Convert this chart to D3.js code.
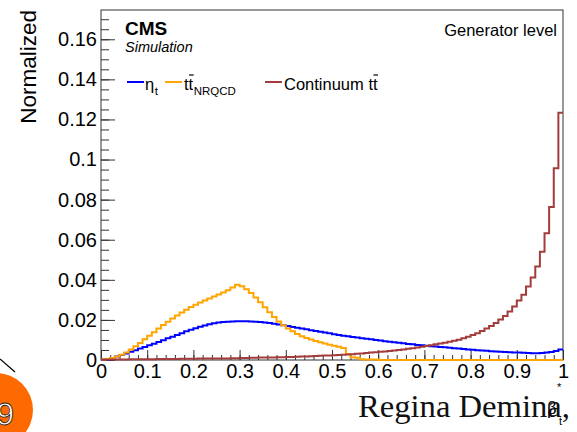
<!DOCTYPE html>
<html><head><meta charset="utf-8">
<script src="https://cdn.jsdelivr.net/npm/d3@7"></script>
<style>body{margin:0;background:#fff}svg{display:block}</style>
</head><body><svg id="c" width="577" height="432"></svg>
<script>
// ---- data ----
const binEdges = d3.range(0, 101).map(i => i / 100);
const etaT = [
0.0001,0.0003,0.0009,0.0017,0.0025,0.0033,0.0041,0.0049,0.0057,0.0065,
0.0073,0.0081,0.0090,0.0099,0.0108,0.0116,0.0125,0.0134,0.0143,0.0151,
0.0159,0.0166,0.0172,0.0178,0.0183,0.0187,0.0189,0.0191,0.0192,0.0193,
0.0193,0.0193,0.0192,0.0191,0.0189,0.0187,0.0184,0.0181,0.0177,0.0173,
0.0169,0.0165,0.0161,0.0157,0.0153,0.0149,0.0145,0.0141,0.0137,0.0133,
0.0129,0.0125,0.0121,0.0118,0.0115,0.0112,0.0109,0.0106,0.0103,0.0100,
0.0097,0.0094,0.0091,0.0088,0.0086,0.0083,0.0080,0.0078,0.0075,0.0073,
0.0071,0.0069,0.0067,0.0065,0.0063,0.0061,0.0059,0.0057,0.0055,0.0053,
0.0051,0.0049,0.0047,0.0046,0.0044,0.0043,0.0041,0.0040,0.0039,0.0038,
0.0037,0.0036,0.0035,0.0034,0.0034,0.0035,0.0037,0.0040,0.0045,0.0052];
const ttNRQCD = [
0.0002,0.0005,0.0010,0.0017,0.0026,0.0038,0.0052,0.0068,0.0085,0.0103,
0.0121,0.0139,0.0157,0.0174,0.0191,0.0207,0.0222,0.0237,0.0251,0.0264,
0.0276,0.0287,0.0297,0.0307,0.0317,0.0327,0.0337,0.0348,0.0362,0.0376,
0.0368,0.0353,0.0334,0.0312,0.0288,0.0263,0.0238,0.0214,0.0192,0.0173,
0.0157,0.0143,0.0130,0.0119,0.0110,0.0102,0.0095,0.0088,0.0082,0.0076,
0.0071,0.0066,0.0060,0.0030,0.0014,0.0011,0.0004,0.0003,0.0003,0.0002,
0,0,0,0,0,0,0,0,0,0,
0,0,0,0,0,0,0,0,0,0,
0,0,0,0,0,0,0,0,0,0,
0,0,0,0,0,0,0,0,0,0];
const continuum = [
0.0003,0.0003,0.0003,0.0003,0.0003,0.0003,0.0004,0.0004,0.0004,0.0004,
0.0004,0.0004,0.0005,0.0005,0.0005,0.0005,0.0005,0.0006,0.0006,0.0006,
0.0006,0.0007,0.0007,0.0007,0.0007,0.0008,0.0008,0.0008,0.0009,0.0009,
0.0010,0.0010,0.0011,0.0011,0.0012,0.0012,0.0013,0.0013,0.0014,0.0014,
0.0015,0.0015,0.0016,0.0017,0.0018,0.0019,0.0020,0.0021,0.0022,0.0023,
0.0024,0.0025,0.0026,0.0028,0.0029,0.0031,0.0033,0.0035,0.0037,0.0039,
0.0041,0.0043,0.0045,0.0048,0.0050,0.0053,0.0056,0.0059,0.0062,0.0066,
0.0070,0.0074,0.0078,0.0082,0.0086,0.0091,0.0096,0.0101,0.0108,0.0116,
0.0125,0.0134,0.0145,0.0157,0.0169,0.0184,0.0202,0.0220,0.0242,0.0267,
0.0297,0.0325,0.0367,0.0411,0.0466,0.0540,0.0632,0.0763,0.0957,0.1233];
const xTicks = [0,0.1,0.2,0.3,0.4,0.5,0.6,0.7,0.8,0.9,1];
const xTickLabels = ["0","0.1","0.2","0.3","0.4","0.5","0.6","0.7","0.8","0.9","1"];
const yTicks = [0,0.02,0.04,0.06,0.08,0.1,0.12,0.14,0.16];
const yTickLabels = ["0","0.02","0.04","0.06","0.08","0.1","0.12","0.14","0.16"];
const seriesNames = ["η", "tt", "Continuum tt"];
const seriesSubs = ["t", "NRQCD", ""];

// ---- drawing ----
const SANS = '"Liberation Sans",Arial,Helvetica,sans-serif';
const SERIF = '"Liberation Serif","Times New Roman",serif';
const svg = d3.select("#c").style("font-family", SANS);
svg.append("rect").attr("width",577).attr("height",432).attr("fill","#fff");
const x = d3.scaleLinear().domain([0,1]).range([101,563]);
const y = d3.scaleLinear().domain([0,0.1746]).range([360,10]);
const colors = ["#0000ff","#ffa500","#a33c3c"];

// minor ticks
const gMinX = svg.append("g").attr("transform","translate(0,360)")
  .call(d3.axisBottom(x).tickValues(d3.range(0,51).map(i=>i/50)).tickSize(-5).tickSizeOuter(0).tickFormat(""));
const gMinY = svg.append("g").attr("transform","translate(101,0)")
  .call(d3.axisLeft(y).tickValues(d3.range(0,35).map(i=>i*0.005)).tickSize(-8).tickSizeOuter(0).tickFormat(""));
[gMinX,gMinY].forEach(g=>{g.select(".domain").remove(); g.selectAll("line").attr("stroke","#333");});

const gx = svg.append("g").attr("transform","translate(0,360)")
  .call(d3.axisBottom(x).tickValues(xTicks).tickSize(-10).tickPadding(4).tickSizeOuter(0)
    .tickFormat((d,i)=>xTickLabels[i]));
const gy = svg.append("g").attr("transform","translate(101,0)")
  .call(d3.axisLeft(y).tickValues(yTicks).tickSize(-14).tickPadding(4).tickSizeOuter(0)
    .tickFormat((d,i)=>yTickLabels[i]));
[gx,gy].forEach(g=>{
  g.attr("font-family", null).attr("font-size", null);
  g.select(".domain").remove();
  g.selectAll("line").attr("stroke","#333");
  g.selectAll("text").style("font-size","20px").attr("fill","#000").style("font-family",SANS);
});

// frame
svg.append("rect").attr("x",x(0)).attr("y",y(0.1746)).attr("width",x(1)-x(0)).attr("height",y(0)-y(0.1746))
  .attr("fill","none").attr("stroke","#333").attr("stroke-width",1);

// histograms
const line = d3.line().x(d=>x(d[0])).y(d=>y(d[1])).curve(d3.curveStepAfter);
[etaT, ttNRQCD, continuum].forEach((vals,k)=>{
  const pts = binEdges.map((e,i)=>[e, vals[Math.min(i, vals.length-1)]]);
  svg.append("path").attr("d", line(pts)).attr("fill","none")
    .attr("stroke",colors[k]).attr("stroke-width",2);
});

// texts
svg.append("text").attr("x",125).attr("y",35).attr("font-size",19).attr("font-weight","bold").text("CMS");
svg.append("text").attr("x",125).attr("y",52).attr("font-size",14.5).attr("font-style","italic").text("Simulation");
svg.append("text").attr("x",557).attr("y",36).attr("font-size",16.5).attr("text-anchor","end").text("Generator level");
svg.append("text").attr("transform","translate(36,10) rotate(-90)").attr("font-size",22.5)
  .attr("text-anchor","end").text("Normalized");

// legend
const legLineX = [127,165,265];
const legTextX = [145,184,284];
legLineX.forEach((lx,k)=>{
  svg.append("line").attr("x1",lx).attr("x2",lx+17).attr("y1",82).attr("y2",82)
    .attr("stroke",colors[k]).attr("stroke-width",2);
  const t = svg.append("text").attr("x",legTextX[k]).attr("y",90).attr("font-size",16.5).text(seriesNames[k]);
  const node = t.node();
  const w = node.getComputedTextLength();
  if (seriesNames[k].endsWith("tt")) {
    const n = seriesNames[k].length;
    const sx = node.getStartPositionOfChar(n-1).x;
    const ex = node.getEndPositionOfChar(n-1).x;
    svg.append("line").attr("x1",sx+0.5).attr("x2",ex+0.5).attr("y1",75).attr("y2",75)
      .attr("stroke","#000").attr("stroke-width",1.2);
  }
  if (seriesSubs[k]) {
    svg.append("text").attr("x",legTextX[k]+w+0.5).attr("y",94.5).attr("font-size",11.5).text(seriesSubs[k]);
  }
});

// slide decorations
svg.append("line").attr("x1",0).attr("y1",359).attr("x2",15).attr("y2",372).attr("stroke","#000").attr("stroke-width",1.2);
svg.append("circle").attr("cx",-4).attr("cy",410).attr("r",37).attr("fill","#ff6a00");
svg.append("text").attr("x",14).attr("y",425).attr("font-size",32).attr("text-anchor","end")
  .attr("fill","#fff").attr("stroke","#222").attr("stroke-width",0.8).text("9");
svg.append("text").attr("x",358).attr("y",417).style("font-size","31px")
  .style("font-family",SERIF).attr("fill","#111")
  .attr("textLength",212).attr("lengthAdjust","spacingAndGlyphs").text("Regina Demina,");

// x axis title β*_t
svg.append("text").attr("x",547).attr("y",414).style("font-size","19px")
  .style("font-family",SERIF).text("β");
svg.append("text").attr("x",557).attr("y",391).attr("font-size",11).text("*");
svg.append("text").attr("x",559).attr("y",425).attr("font-size",11).text("t");
</script></body></html>
